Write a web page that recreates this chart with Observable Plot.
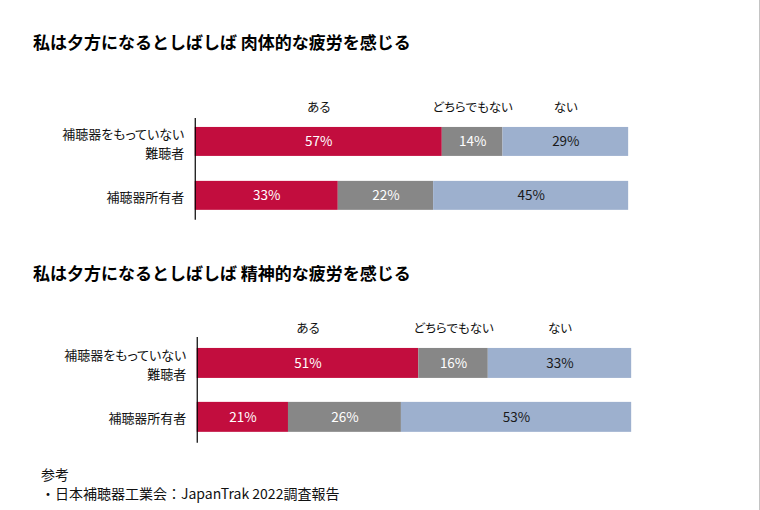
<!DOCTYPE html>
<html>
<head>
<meta charset="utf-8">
<script src="https://cdn.jsdelivr.net/npm/d3@7"></script>
<script src="https://cdn.jsdelivr.net/npm/@observablehq/plot@0.6"></script>
<style>
  html, body { margin: 0; padding: 0; background: #fff; }
  #page { position: relative; width: 759px; height: 510px; border-right: 1px solid #c4c4c4; overflow: hidden;
          font-family: "Noto Sans CJK JP", "Noto Sans", sans-serif; color: #111; }
  .title { position: absolute; left: 33px; font-size: 17px; font-weight: 700; line-height: 20px; white-space: nowrap; color: #000; }
  .plot { position: absolute; left: 0; }
  .plot svg text { font-feature-settings: "palt"; }
  #caption { position: absolute; left: 41px; top: 465px; font-size: 14px; line-height: 19px; color: #111; }
</style>
</head>
<body>
<div id="page">
  <div class="title" id="t1" style="top:32px"></div>
  <div class="plot" id="p1" style="top:90px"></div>
  <div class="title" id="t2" style="top:263px"></div>
  <div class="plot" id="p2" style="top:310px"></div>
  <div id="caption"></div>
</div>
<script>
const titles = ["私は夕方になるとしばしば 肉体的な疲労を感じる", "私は夕方になるとしばしば 精神的な疲労を感じる"];
const categories = ["補聴器をもっていない\n難聴者", "補聴器所有者"];
const responses = ["ある", "どちらでもない", "ない"];
const colors = ["#C20D3E", "#878787", "#9DB0CE"];
const physical = [[57, 14, 29], [33, 22, 45]];
const mental = [[51, 16, 33], [21, 26, 53]];
const captionLines = ["参考", "・日本補聴器工業会：JapanTrak 2022調査報告"];

function rowsOf(values) {
  const rows = [];
  categories.forEach((c, i) => responses.forEach((r, j) => rows.push({cat: c, resp: r, value: values[i][j]})));
  return rows;
}

function panel(values, opts) {
  const rows = rowsOf(values);
  const first = rows.filter(d => d.cat === categories[0]);
  return Plot.plot({
    width: 760,
    height: opts.height,
    marginLeft: opts.marginLeft,
    marginRight: opts.marginRight,
    marginTop: opts.marginTop,
    marginBottom: opts.marginBottom,
    style: {fontFamily: '"Noto Sans CJK JP", "Noto Sans", sans-serif', background: "transparent", overflow: "visible"},
    x: {domain: [0, 100], axis: null},
    y: {domain: categories, axis: null, paddingInner: opts.pi, paddingOuter: opts.po},
    color: {domain: responses, range: colors},
    marks: [
      Plot.barX(rows, Plot.stackX({x: "value", y: "cat", z: "resp", fill: "resp"})),
      Plot.text(rows, Plot.stackX({x: "value", y: "cat", z: "resp",
        text: d => d.value + "%", fontSize: 13.5,
        fill: d => d.resp === "ない" ? "#1a1a1a" : "#ffffff"})),
      Plot.text(first, Plot.stackX({x: "value", y: "cat", z: "resp",
        text: "resp", fontSize: 12.5, fill: "#111", dy: -34})),
      Plot.text(categories, {x: () => 0, y: d => d, text: d => d, textAnchor: "end",
        dx: -11, fontSize: 13, lineHeight: 1.47, fill: "#111"}),
      Plot.ruleX([0], {stroke: "#000", strokeWidth: 1.2})
    ]
  });
}

document.getElementById("t1").textContent = titles[0];
document.getElementById("t2").textContent = titles[1];
document.getElementById("p1").appendChild(panel(physical,
  {height: 135, marginLeft: 195, marginRight: 131, marginTop: 28, marginBottom: 5, pi: 0.4545, po: 0.155}));
document.getElementById("p2").appendChild(panel(mental,
  {height: 140, marginLeft: 197, marginRight: 128, marginTop: 27, marginBottom: 7, pi: 0.436, po: 0.182}));
document.getElementById("caption").innerHTML = captionLines.map(s => "<div>" + s + "</div>").join("");
</script>
</body>
</html>
